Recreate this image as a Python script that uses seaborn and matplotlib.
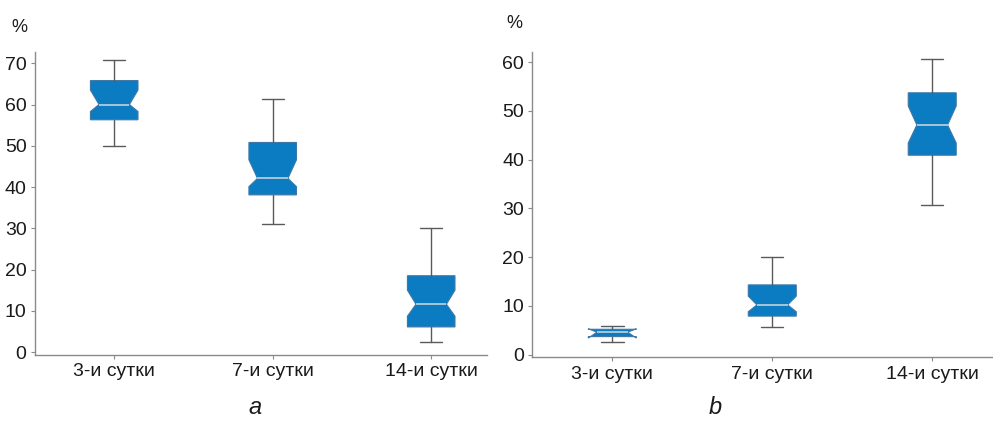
import matplotlib
matplotlib.use("Agg")
import matplotlib.pyplot as plt
from matplotlib import font_manager
import seaborn as sns

# Day categories on the x axis
days = ["3-и сутки", "7-и сутки", "14-и сутки"]

# Panel a: notched box summaries (%)
a_whislo = [50.0, 31.0, 2.5]
a_q1 = [56.3, 38.1, 6.1]
a_med = [60.0, 42.1, 11.6]
a_q3 = [65.8, 50.8, 18.5]
a_whishi = [70.7, 61.4, 30.0]
a_cilo = [58.3, 40.1, 8.7]
a_cihi = [63.5, 46.6, 15.0]
a_ticks = [0, 10, 20, 30, 40, 50, 60, 70]

# Panel b: notched box summaries (%)
b_whislo = [2.5, 5.7, 30.7]
b_q1 = [3.7, 7.9, 40.9]
b_med = [4.6, 10.2, 47.1]
b_q3 = [5.2, 14.3, 53.7]
b_whishi = [5.9, 20.1, 60.7]
b_cilo = [3.4, 8.8, 43.4]
b_cihi = [5.3, 12.0, 51.0]
b_ticks = [0, 10, 20, 30, 40, 50, 60]

sns.set_theme(style="ticks")
available = {f.name for f in font_manager.fontManager.ttflist}
family = [f for f in ["Liberation Sans Narrow", "Liberation Sans", "DejaVu Sans"] if f in available]
plt.rcParams["font.family"] = family

BOX_BLUE = "#0b7cc2"
EDGE = "#3f78a6"
WHISK = "#5a5a5a"
SPINE = "#8a8a8a"
MEDIAN = "#c3d2da"
WIDTH = 0.30
WAIST = 0.32  # half-width of the notch waist, as a fraction of box width


def make_stats(whislo, q1, med, q3, whishi, cilo, cihi):
    return [dict(whislo=w0, q1=a, med=m, q3=b, whishi=w1, cilo=c0, cihi=c1, fliers=[])
            for w0, a, m, b, w1, c0, c1 in zip(whislo, q1, med, q3, whishi, cilo, cihi)]


def draw_panel(ax, stats, ticks, ylim, xlim):
    positions = list(range(len(stats)))
    art = ax.bxp(stats, positions=positions, widths=WIDTH, capwidths=0.14,
                 shownotches=True, patch_artist=True, showfliers=False,
                 boxprops=dict(facecolor=BOX_BLUE, edgecolor=EDGE, linewidth=0.8),
                 whiskerprops=dict(color=WHISK, linewidth=1.0),
                 capprops=dict(color=WHISK, linewidth=1.0),
                 medianprops=dict(color=MEDIAN, linewidth=1.2))
    # widen the notch waist
    for pos, st, patch, med in zip(positions, stats, art["boxes"], art["medians"]):
        v = patch.get_path().vertices
        at_med = abs(v[:, 1] - st["med"]) < 1e-9
        left = v[:, 0] < pos
        v[at_med & left, 0] = pos - WAIST * WIDTH
        v[at_med & ~left, 0] = pos + WAIST * WIDTH
        med.set_xdata([pos - WAIST * WIDTH, pos + WAIST * WIDTH])
    ax.set_xticks(positions)
    ax.set_xticklabels(days)
    ax.set_yticks(ticks)
    ax.set_xlim(*xlim)
    ax.set_ylim(*ylim)
    sns.despine(ax=ax)
    for s in ("left", "bottom"):
        ax.spines[s].set_color(SPINE)
        ax.spines[s].set_linewidth(1.0)
    ax.tick_params(axis="both", colors=SPINE, length=3, width=0.8,
                   labelcolor="#1a1a1a", labelsize=14, pad=3)
    ax.set_facecolor("white")


fig = plt.figure(figsize=(9.93, 4.22), dpi=100)
fig.patch.set_facecolor("white")

ax_a = fig.add_axes([0.0352, 0.1588, 0.4549, 0.7187])
ax_b = fig.add_axes([0.5361, 0.1533, 0.4639, 0.7227])

draw_panel(ax_a, make_stats(a_whislo, a_q1, a_med, a_q3, a_whishi, a_cilo, a_cihi),
           a_ticks, (-0.7, 72.8), (-0.5, 2.35))
draw_panel(ax_b, make_stats(b_whislo, b_q1, b_med, b_q3, b_whishi, b_cilo, b_cihi),
           b_ticks, (-0.55, 62.0), (-0.5, 2.38))

fig.text(19 / 993, 1 - 27 / 422, "%", ha="center", va="center", fontsize=13, color="#1a1a1a")
fig.text(514 / 993, 1 - 23 / 422, "%", ha="center", va="center", fontsize=13, color="#1a1a1a")
fig.text(255 / 993, 1 - 407 / 422, "a", ha="center", va="center", fontsize=17,
         style="italic", color="#1a1a1a")
fig.text(715 / 993, 1 - 407 / 422, "b", ha="center", va="center", fontsize=17,
         style="italic", color="#1a1a1a")

fig.savefig("out.png", dpi=100, facecolor="white")
